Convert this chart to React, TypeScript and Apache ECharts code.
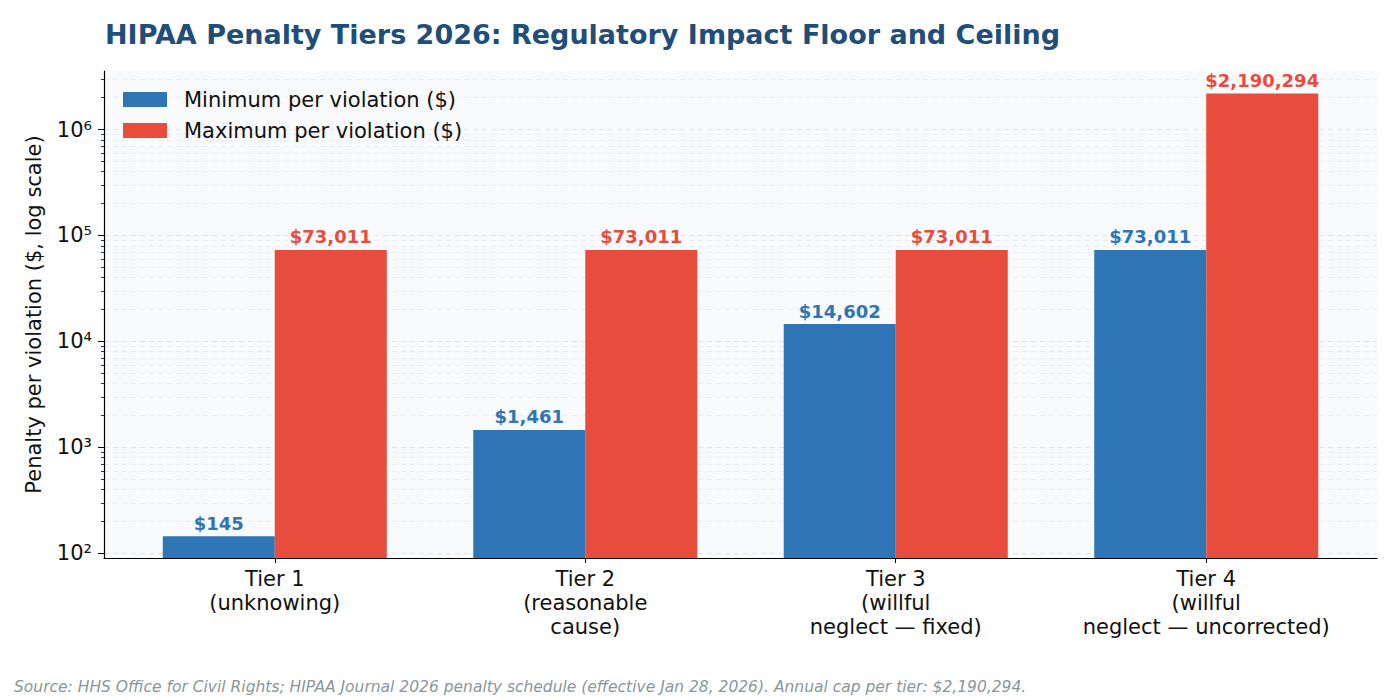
import React, { useEffect, useRef } from "react";
import * as echarts from "echarts";

const categories = [
  "Tier 1\n(unknowing)",
  "Tier 2\n(reasonable\ncause)",
  "Tier 3\n(willful\nneglect — fixed)",
  "Tier 4\n(willful\nneglect — uncorrected)",
];
const minPerViolation = [145, 1461, 14602, 73011];
const maxPerViolation = [73011, 73011, 73011, 2190294];
const minorTickValues = [
  200, 300, 400, 500, 600, 700, 800, 900,
  2000, 3000, 4000, 5000, 6000, 7000, 8000, 9000,
  20000, 30000, 40000, 50000, 60000, 70000, 80000, 90000,
  200000, 300000, 400000, 500000, 600000, 700000, 800000, 900000,
  2000000, 3000000,
];
const majorTickValues = [100, 1000, 10000, 100000, 1000000];

const FONT = "DejaVu Sans";
const BLUE = "#2e75b6";
const RED = "#e74c3c";
const SUP: Record<string, string> = { "0": "⁰", "1": "¹", "2": "²", "3": "³", "4": "⁴", "5": "⁵", "6": "⁶", "7": "⁷" };

const fmtMoney = (v: number) => "$" + Math.round(v).toLocaleString("en-US");

export default function App() {
  const ref = useRef<HTMLDivElement>(null);
  useEffect(() => {
    if (!ref.current) return;
    const chart = echarts.init(ref.current, undefined, { renderer: "svg" });
    const catIdx = categories.map((_, i) => i);
    const option: any = {
      animation: false,
      backgroundColor: "#ffffff",
      textStyle: { fontFamily: FONT },
      title: {
        text: "HIPAA Penalty Tiers 2026: Regulatory Impact Floor and Ceiling",
        left: 100,
        top: 16,
        textStyle: { fontFamily: FONT, fontSize: 27, fontWeight: "bold", color: "#1f4e79" },
      },
      legend: {
        orient: "vertical",
        left: 118,
        top: 84,
        itemWidth: 44,
        itemHeight: 15,
        itemGap: 10,
        icon: "rect",
        textStyle: { fontFamily: FONT, fontSize: 21, lineHeight: 21, color: "#111", padding: [0, 0, 0, 12] },
        data: ["Minimum per violation ($)", "Maximum per violation ($)"],
      },
      grid: {
        left: 104,
        top: 71,
        right: 23,
        bottom: 142,
        show: true,
        backgroundColor: "#f8fafc",
        borderWidth: 0,
      },
      xAxis: {
        type: "value",
        min: -0.55,
        max: 3.55,
        axisLine: { show: true, onZero: false, lineStyle: { color: "#000", width: 1.2 } },
        axisTick: { show: true, length: 5, customValues: catIdx, lineStyle: { color: "#000" } },
        splitLine: { show: false },
        axisLabel: {
          customValues: catIdx,
          margin: 9,
          fontFamily: FONT,
          fontSize: 21,
          color: "#111",
          lineHeight: 24,
          align: "center",
          formatter: (v: number) => {
            const i = Math.round(v);
            return Math.abs(v - i) < 1e-6 && categories[i] ? categories[i] : "";
          },
        },
      },
      yAxis: [
        {
          type: "log",
          min: 90.3,
          max: 3570000,
          logBase: 10,
          name: "Penalty per violation ($, log scale)",
          nameLocation: "middle",
          nameGap: 60,
          nameRotate: 90,
          nameTextStyle: { fontFamily: FONT, fontSize: 21, color: "#111" },
          axisLine: { show: true, onZero: false, lineStyle: { color: "#000", width: 1.2 } },
          axisTick: { show: true, length: 6, customValues: majorTickValues, lineStyle: { color: "#000" } },
          axisLabel: {
            customValues: majorTickValues,
            showMinLabel: true,
            showMaxLabel: true,
            margin: 12,
            fontFamily: FONT,
            fontSize: 21,
            color: "#111",
            formatter: (v: number) => {
              const e = Math.round(Math.log10(v));
              if (Math.abs(Math.log10(v) - e) > 1e-6) return "";
              return "10" + String(e).split("").map((c) => SUP[c] || c).join("");
            },
          },
          splitLine: { show: true, lineStyle: { color: "#e1e5ea", type: [5, 4], width: 1 } },
        },
        {
          type: "log",
          min: 90.3,
          max: 3570000,
          logBase: 10,
          position: "left",
          axisLine: { show: false, onZero: false },
          axisTick: { show: true, length: 3, customValues: minorTickValues, lineStyle: { color: "#000", width: 0.8 } },
          axisLabel: { show: false },
          splitLine: { show: true, lineStyle: { color: "#eaedf1", type: [5, 4], width: 1 } },
        },
      ],
      series: [
        {
          name: "Minimum per violation ($)",
          type: "bar",
          barWidth: 112,
          barGap: "0%",
          clip: true,
          itemStyle: { color: BLUE },
          data: minPerViolation.map((v, i) => [i, v]),
          label: {
            show: true,
            position: "top",
            distance: 4,
            fontFamily: FONT,
            fontSize: 18,
            fontWeight: "bold",
            color: BLUE,
            formatter: (p: any) => fmtMoney(p.value[1]),
          },
        },
        {
          name: "Maximum per violation ($)",
          type: "bar",
          barWidth: 112,
          barGap: "0%",
          clip: true,
          itemStyle: { color: RED },
          data: maxPerViolation.map((v, i) => [i, v]),
          label: {
            show: true,
            position: "top",
            distance: 4,
            fontFamily: FONT,
            fontSize: 18,
            fontWeight: "bold",
            color: RED,
            formatter: (p: any) => fmtMoney(p.value[1]),
          },
        },
      ],
      graphic: [
        {
          type: "text",
          left: 14,
          top: 679,
          style: {
            text: "Source: HHS Office for Civil Rights; HIPAA Journal 2026 penalty schedule (effective Jan 28, 2026). Annual cap per tier: $2,190,294.",
            fontFamily: FONT,
            fontSize: 15.5,
            fontStyle: "italic",
            fill: "#8a9699",
          },
        },
      ],
    };
    chart.setOption(option);
    return () => chart.dispose();
  }, []);
  return (
    <div
      ref={ref}
      style={{ position: "fixed", left: 0, top: 0, width: 1400, height: 700 }}
    />
  );
}
